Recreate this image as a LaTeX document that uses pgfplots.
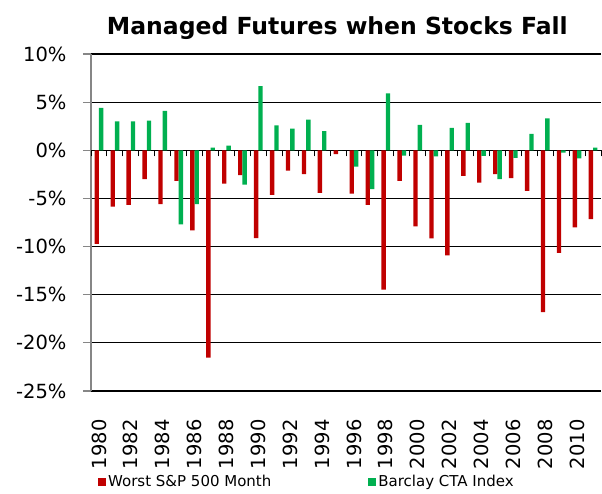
\documentclass[border=0pt]{standalone}
\usepackage{pgfplots}
\pgfplotsset{compat=1.18}
\usepackage{pgfplotstable}
\usepackage{fontspec}
\setmainfont{DejaVu Sans}
\definecolor{spred}{RGB}{192,0,0}
\definecolor{ctagreen}{RGB}{0,176,80}
\definecolor{axgray}{RGB}{134,134,134}

% year index (0 = 1980), worst S&P month, Barclay CTA index
\pgfplotstableread{
idx sp cta
0  -9.73  4.41
1  -5.84  3.00
2  -5.66  3.00
3  -3.00  3.07
4  -5.59  4.09
5  -3.18 -7.70
6  -8.32 -5.59
7  -21.53 0.27
8  -3.46  0.48
9  -2.59 -3.56
10 -9.11  6.67
11 -4.63  2.58
12 -2.11  2.24
13 -2.48  3.18
14 -4.42  1.99
15 -0.41  0.00
16 -4.49 -1.70
17 -5.66 -4.04
18 -14.46 5.91
19 -3.18 -0.56
20 -7.91  2.65
21 -9.15 -0.62
22 -10.91 2.34
23 -2.66  2.86
24 -3.35 -0.59
25 -2.48 -3.00
26 -2.90 -0.80
27 -4.21  1.71
28 -16.81 3.32
29 -10.66 -0.25
30 -8.01 -0.83
31 -7.14  0.27
}\falls

\begin{document}
\begin{tikzpicture}
\path[use as bounding box] (-91pt,-102pt) rectangle (511pt,391pt);
\begin{axis}[
  width=510pt, height=337pt, scale only axis,
  xmin=-0.5, xmax=31.5, ymin=-25, ymax=10,
  ybar=0pt, bar width=4.4pt,
  every axis plot post/.append style={
    legend image code/.code={\fill[##1] (0pt,-4pt) rectangle (8pt,4pt);}},
  axis x line*=bottom, axis y line*=left,
  x axis line style={black, line width=1.6pt},
  y axis line style={axgray, line width=1.4pt},
  tick align=outside,
  xtick={0,2,...,30},
  xticklabels={1980,1982,1984,1986,1988,1990,1992,1994,1996,1998,2000,2002,2004,2006,2008,2010},
  xtick style={draw=none},
  xticklabel shift=17pt,
  xticklabel style={rotate=90, anchor=east, font=\fontsize{19.5}{22}\selectfont},
  ytick={-25,-20,...,10},
  yticklabels={-25\%,-20\%,-15\%,-10\%,-5\%,0\%,5\%,10\%},
  ytick style={axgray, line width=1.2pt},
  major tick length=8pt,
  yticklabel style={font=\fontsize{19.5}{22}\selectfont, xshift=-13pt},
  ymajorgrids, grid style={black, line width=1.2pt},
  title={Managed Futures when Stocks Fall},
  title style={font=\bfseries\fontsize{23.5}{28}\selectfont, anchor=base,
    at={(axis description cs:0.483,1)}, yshift=14pt},
  legend columns=2,
  legend style={at={(axis description cs:0.0137,-0.270)}, anchor=west,
    draw=none, fill=none, inner sep=0pt,
    font=\fontsize{15}{18}\selectfont,
    nodes={inner sep=2pt},
    /tikz/every even column/.append style={column sep=95pt}},
]
\addplot[fill=spred, draw=none] table[x=idx, y=sp] {\falls};
\addplot[fill=ctagreen, draw=none] table[x=idx, y=cta] {\falls};
\legend{Worst S\&P 500 Month, Barclay CTA Index}
\end{axis}
\begin{axis}[
  width=510pt, height=337pt, scale only axis,
  xmin=-0.5, xmax=31.5, ymin=-25, ymax=10,
  axis y line=none, axis x line*=middle,
  x axis line style={draw=none},
  xtick={-0.5,0.5,...,31.5}, xticklabels={},
  xtick style={black, line width=1pt},
  tick align=outside, major tick length=6pt,
]
\end{axis}
\end{tikzpicture}
\end{document}
